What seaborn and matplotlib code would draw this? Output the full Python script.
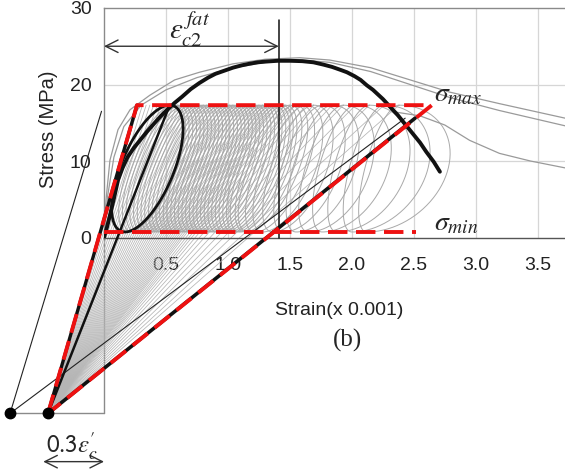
import numpy as np
import pandas as pd
import matplotlib
matplotlib.use("Agg")
import matplotlib.pyplot as plt
import seaborn as sns

# ---------------- data (strain in 0.001, stress in MPa) ----------------
sigma_max = 17.3
sigma_min = 0.72
focal_strain, focal_stress = -0.452, -23.0
left_dot_strain = -0.758
eps_fat = 1.41
red_top_left = 0.266
red_top_right = 2.645
sigma_min_end = 2.52
final_unload_top = (2.51, 15.6)
thin_line_steep_top = (-0.02, 16.5)
thin_line_flat_top = (2.43, 15.6)

env_black_strain = [0.0, 0.025, 0.048, 0.08, 0.113, 0.15, 0.19, 0.24, 0.29, 0.35, 0.41, 0.46, 0.51,
                    0.57, 0.63, 0.70, 0.77, 0.84, 0.90, 0.97, 1.04, 1.11, 1.17, 1.24, 1.31, 1.40,
                    1.50, 1.60, 1.69, 1.77, 1.84, 1.91, 1.96, 2.02, 2.07, 2.12, 2.17, 2.21, 2.25,
                    2.29, 2.33, 2.37, 2.41, 2.45, 2.49, 2.55, 2.60, 2.66, 2.71]
env_black_stress = [0.0, 1.4, 2.9, 5.1, 7.5, 9.1, 10.5, 11.7, 12.7, 13.9, 15.0, 15.9, 16.7,
                    17.6, 18.4, 19.4, 20.2, 20.9, 21.4, 21.8, 22.2, 22.5, 22.7, 22.9, 23.0, 23.1,
                    23.1, 23.05, 22.9, 22.6, 22.3, 21.9, 21.6, 21.1, 20.6, 19.9, 19.3, 18.7, 18.1,
                    17.4, 16.7, 16.0, 15.2, 14.4, 13.6, 12.4, 11.2, 9.9, 8.6]

env_gray1_strain = [0.0, 0.016, 0.048, 0.113, 0.21, 0.37, 0.57, 0.77, 1.04, 1.30, 1.58, 1.82, 2.15, 2.47, 2.79, 3.19, 3.72]
env_gray1_stress = [0.0, 4.9, 10.1, 14.1, 16.7, 18.6, 20.6, 21.6, 22.7, 23.3, 23.5, 23.2, 22.2, 20.6, 19.0, 17.5, 15.6]
env_gray2_strain = [0.0, 0.03, 0.08, 0.16, 0.30, 0.50, 0.75, 1.02, 1.30, 1.58, 1.82, 2.15, 2.47, 2.79, 3.19, 3.72]
env_gray2_stress = [0.0, 5.5, 10.5, 14.5, 17.3, 19.3, 20.9, 22.1, 22.9, 23.2, 22.9, 21.7, 20.0, 18.3, 16.6, 14.6]
tail_gray_strain = [2.35, 2.55, 2.75, 2.95, 3.19, 3.44, 3.72]
tail_gray_stress = [16.4, 15.9, 14.7, 12.7, 11.0, 10.0, 9.1]

first_loop_top = 0.53
first_loop_bot = 0.17
first_loop_halfwidth = 0.225

loop_top = [0.56, 0.59, 0.62, 0.65, 0.68, 0.71, 0.74, 0.77, 0.80, 0.83, 0.86, 0.89, 0.92,
            0.95, 0.98, 1.01, 1.04, 1.07, 1.10, 1.13, 1.16, 1.19, 1.22, 1.25, 1.28, 1.31,
            1.34, 1.37, 1.40, 1.43, 1.46, 1.50, 1.54, 1.58, 1.63, 1.69, 1.76, 1.84, 1.93,
            2.03, 2.14, 2.26, 2.38]
loop_bot = [0.20, 0.23, 0.26, 0.29, 0.32, 0.35, 0.38, 0.41, 0.44, 0.47, 0.50, 0.53, 0.56,
            0.59, 0.62, 0.65, 0.68, 0.71, 0.74, 0.77, 0.80, 0.83, 0.86, 0.89, 0.92, 0.95,
            0.98, 1.01, 1.04, 1.07, 1.10, 1.14, 1.16, 1.22, 1.28, 1.36, 1.45, 1.55, 1.65,
            1.76, 1.88, 2.00, 2.12]
fan_extra_top = [0.28, 0.31, 0.34, 0.37, 0.40, 0.43, 0.46, 0.49]

xticks = [0.5, 1.0, 1.5, 2.0, 2.5, 3.0, 3.5]
xticklabels = ["0.5", "1.0", "1.5", "2.0", "2.5", "3.0", "3.5"]
yticks = [0, 10, 20, 30]
yticklabels = ["0", "10", "20", "30"]

# ---------------- style ----------------
sns.set_style("white")
plt.rcParams["font.family"] = ["Liberation Sans", "DejaVu Sans"]
plt.rcParams["mathtext.fontset"] = "stix"

W, H = 565, 475
fig = plt.figure(figsize=(W / 100, H / 100), dpi=100)
ax = fig.add_axes([104 / W, 237.5 / H, 471 / W, 229.5 / H])
ax.set_xlim(0, 3.8)
ax.set_ylim(0, 30)

for x in xticks:
    ax.axvline(x, color="#d6d6d6", lw=0.9, zorder=0)
for y in [10, 20]:
    ax.axhline(y, color="#d6d6d6", lw=0.9, zorder=0)


def loop_points(eb, et, hl, hr, n=90):
    s = np.linspace(0, 2 * np.pi, n)
    p = np.cos(s)
    sn = np.sin(s)
    xm, a = (eb + et) / 2, (et - eb) / 2
    ym, b = (sigma_min + sigma_max) / 2, (sigma_max - sigma_min) / 2
    h = np.where(sn > 0, hr, hl)
    return xm + a * p + h * sn, ym + b * p


# gray loops
rows = []
for i, (et, eb) in enumerate(zip(loop_top, loop_bot)):
    grow = np.clip((et - 1.5) / 1.0, 0, 1)
    hr = 0.21 + 0.36 * grow
    hl = 0.19 - 0.05 * grow
    xs, ys = loop_points(eb, et, hl, hr)
    for k, (x, y) in enumerate(zip(xs, ys)):
        rows.append((i, k, x, y))
loops = pd.DataFrame(rows, columns=["loop", "order", "strain", "stress"])
sns.lineplot(data=loops, x="strain", y="stress", units="loop", estimator=None, sort=False,
             color="#a9a9a9", lw=0.7, ax=ax, zorder=2)

# fan of unloading lines through focal point
fan_rows = []
for i, et in enumerate(fan_extra_top + [first_loop_top] + loop_top):
    fan_rows.append((i, 0, focal_strain, focal_stress))
    fan_rows.append((i, 1, et, sigma_max))
fan = pd.DataFrame(fan_rows, columns=["line", "order", "strain", "stress"])
for i, g in fan.groupby("line"):
    ax.plot(g["strain"], g["stress"], color="#b5b5b5", lw=0.55, zorder=1.5, clip_on=False)

# gray monotonic envelopes
for sx, sy in [(env_gray1_strain, env_gray1_stress), (env_gray2_strain, env_gray2_stress),
               (tail_gray_strain, tail_gray_stress)]:
    sns.lineplot(x=sx, y=sy, sort=False, estimator=None, color="#9a9a9a", lw=0.9, ax=ax, zorder=3)

# lower-left construction box
ax.plot([0, 0], [0, focal_stress], color="#8a8a8a", lw=1.0, clip_on=False, zorder=1)
ax.plot([left_dot_strain, 0], [focal_stress, focal_stress], color="#8a8a8a", lw=1.0, clip_on=False, zorder=1)

# thin black lines from the left dot
ax.plot([left_dot_strain, thin_line_steep_top[0]], [focal_stress, thin_line_steep_top[1]],
        color="#222222", lw=0.8, clip_on=False, zorder=4)
ax.plot([left_dot_strain, thin_line_flat_top[0]], [focal_stress, thin_line_flat_top[1]],
        color="#222222", lw=0.8, clip_on=False, zorder=4)

# first (black) loop and its unloading line
xs, ys = loop_points(first_loop_bot, first_loop_top, first_loop_halfwidth, first_loop_halfwidth)
ax.plot(xs, ys, color="#111111", lw=2.0, zorder=5)
ax.plot([focal_strain, first_loop_top], [focal_stress, sigma_max], color="#111111", lw=1.8,
        clip_on=False, zorder=5)

# final unloading line (thick black)
ax.plot([focal_strain, final_unload_top[0]], [focal_stress, final_unload_top[1]], color="#111111",
        lw=2.6, clip_on=False, zorder=5)
# black under left red line
ax.plot([focal_strain, red_top_left], [focal_stress, sigma_max], color="#111111", lw=2.4,
        clip_on=False, zorder=5)

# black monotonic envelope
sns.lineplot(x=env_black_strain, y=env_black_stress, sort=False, estimator=None, color="#111111",
             lw=2.8, ax=ax, zorder=6)

# red dashed fatigue envelope
red_s = [focal_strain, red_top_left, red_top_right, focal_strain]
red_t = [focal_stress, sigma_max, sigma_max, focal_stress]
ax.plot(red_s, red_t, color="#ee1111", lw=2.8, dashes=(5.0, 2.2), clip_on=False, zorder=7,
        dash_capstyle="butt")
ax.plot([0, sigma_min_end], [sigma_min, sigma_min], color="#ee1111", lw=2.8, dashes=(5.0, 2.2),
        clip_on=False, zorder=7, dash_capstyle="butt")

# dots
ax.plot([left_dot_strain, focal_strain], [focal_stress, focal_stress], "o", color="black",
        ms=7.5, clip_on=False, zorder=8)

# vertical line at eps_c2^fat
ax.plot([eps_fat, eps_fat], [0, 28.4], color="#111111", lw=1.1, zorder=6, clip_on=False)

# arrows
ax.annotate("", xy=(0.0, 25.0), xytext=(eps_fat, 25.0),
            arrowprops=dict(arrowstyle="<->,head_length=0.9,head_width=0.45", color="#333333", lw=1.0,
                            shrinkA=0, shrinkB=0), zorder=6)
ax.annotate("", xy=(-0.49, -29.3), xytext=(0.0, -29.3), annotation_clip=False,
            arrowprops=dict(arrowstyle="<->,head_length=0.9,head_width=0.45", color="#333333", lw=1.0,
                            shrinkA=0, shrinkB=0))

# text labels
ax.text(0.69, 27.2, r"$\varepsilon_{c2}^{\,fat}$", fontsize=21, ha="center", va="center", zorder=9)
ax.text(2.66, 18.7, r"$\sigma_{max}$", fontsize=20, ha="left", va="center", zorder=9)
ax.text(2.66, 1.8, r"$\sigma_{min}$", fontsize=20, ha="left", va="center", zorder=9)
ax.text(-0.258, -27.3, r"$\mathsf{0.3}\varepsilon_c'$", fontsize=18, ha="center", va="center",
        clip_on=False)
fig.text(347 / W, 1 - 340 / H, "(b)", fontsize=18, family="Liberation Serif", ha="center", va="center")

# axes cosmetics
ax.set_xticks(xticks)
ax.set_xticklabels(xticklabels)
ax.set_yticks(yticks)
ax.set_yticklabels(yticklabels)
ax.tick_params(axis="both", labelsize=14, colors="#333333", length=5, width=0.9, direction="out")
ax.tick_params(axis="x", pad=9, labelcolor="#222222")
ax.tick_params(axis="y", pad=4, labelcolor="#222222")
ax.set_xlabel("Strain(x 0.001)", fontsize=14, color="#222222")
ax.set_ylabel("Stress (MPa)", fontsize=14.5, color="#222222")
ax.xaxis.set_label_coords((339 - 104) / 471, (237.5 - 302) / 229.5)
ax.yaxis.set_label_coords((58 - 104) / 471, (237.5 - 129) / 229.5)
for side in ["left", "top", "right"]:
    ax.spines[side].set_color("#8a8a8a")
    ax.spines[side].set_linewidth(1.0)
ax.spines["bottom"].set_color("#555555")
ax.spines["bottom"].set_linewidth(1.0)
ax.grid(False)

fig.savefig("out.png", dpi=100)
